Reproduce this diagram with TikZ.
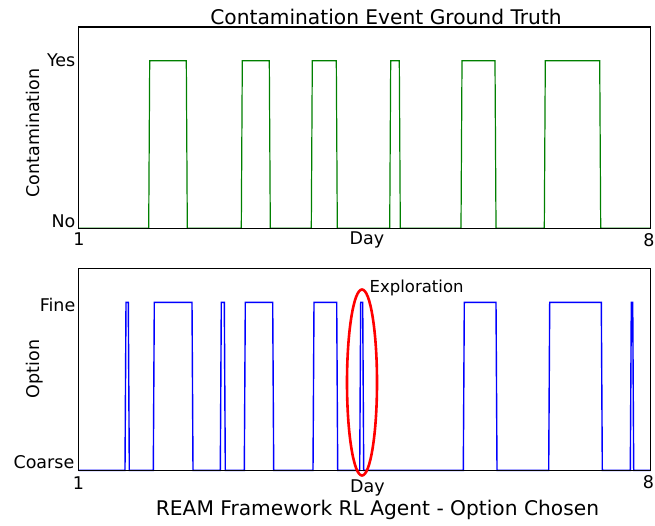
\documentclass[tikz,border=0pt]{standalone}
\usepackage{fontspec}
\setmainfont{DejaVu Sans}
\usetikzlibrary{shapes.geometric}
\definecolor{plotgreen}{rgb}{0,0.5,0}
\definecolor{plotblue}{rgb}{0,0,1}
\definecolor{plotred}{rgb}{1,0,0}
\tikzset{axbox/.style = {draw=black, line width=1.1pt, rectangle,
                         inner sep=0pt, minimum width=572pt,
                         minimum height=201.5pt},
         truth/.style = {draw=plotgreen, line width=1.2pt},
         chosen/.style = {draw=plotblue, line width=1.4pt},
         ticklabel/.style = {inner sep=0pt, text=black,
                             font=\fontsize{17.5}{20}\selectfont},
         smalltext/.style = {ticklabel, font=\fontsize{16.5}{19}\selectfont},
         bigtext/.style = {ticklabel, font=\fontsize{20.2}{24}\selectfont},
         marked/.style = {ellipse, draw=plotred, line width=2.6pt,
                          inner sep=0pt}}

\begin{document}
\begin{tikzpicture}[x=1pt,y=-1pt]
  \useasboundingbox (0,0) rectangle (655,525);
  % contamination ground truth
  \draw[truth] (78.5,228.3)
    foreach \a/\b in {148.7/187.3, 241.3/270.3, 311.3/337.3,
                      389.7/400.3, 461/496, 544.3/600.7}
    { -- (\a,228.3) -- ({\a+1},60.7) -- ({\b-1},60.7) -- (\b,228.3) }
    -- (650.5,228.3);
  \node[axbox] (topax) at (364.5,127.75) {};
  \node[bigtext, anchor=base] (toptitle) at (386,24)
    {Contamination Event Ground Truth};
  \node[ticklabel, anchor=east] (yes) at (75.5,60) {Yes};
  \node[ticklabel, anchor=east] (no) at (75.5,221) {No};
  \node[ticklabel, anchor=north] (topfirst) at (79,233) {1};
  \node[ticklabel, anchor=north] (toplast) at (649,233) {8};
  \node[ticklabel, anchor=north] (topday) at (367,232) {Day};
  \node[ticklabel, rotate=90, anchor=base] (contam) at (39.5,133)
    {Contamination};

  % option chosen by the agent
  \draw[chosen] (78.5,470.3)
    foreach \a/\b in {125/129.3, 153.3/193, 220.3/225.3, 244.3/273.7,
                      313/337.7, 359.7/363.7, 463.3/497, 548.7/602.3,
                      630.3/633.7}
    { -- (\a,470.3) -- ({\a+1},302.3) -- ({\b-1},302.3) -- (\b,470.3) }
    -- (650.5,470.3);
  \node[axbox] (botax) at (364.5,369.65) {};
  \node[ticklabel, anchor=east] (fine) at (75.5,304.5) {Fine};
  \node[ticklabel, anchor=east] (coarse) at (74.5,462.3) {Coarse};
  \node[ticklabel, anchor=north] (botfirst) at (78.5,477) {1};
  \node[ticklabel, anchor=north] (botlast) at (648.5,475) {8};
  \node[ticklabel, anchor=north] (botday) at (367.5,480) {Day};
  \node[ticklabel, rotate=90, anchor=base] (option) at (39.5,369)
    {Option};
  \node[marked, minimum width=30pt, minimum height=186pt] (explore)
    at (362,382.5) {};
  \node[smalltext, anchor=base west] (explorelabel) at (369.5,292)
    {Exploration};
  \node[bigtext, anchor=base] (bottitle) at (377.5,515.5)
    {REAM Framework RL Agent - Option Chosen};
\end{tikzpicture}
\end{document}
